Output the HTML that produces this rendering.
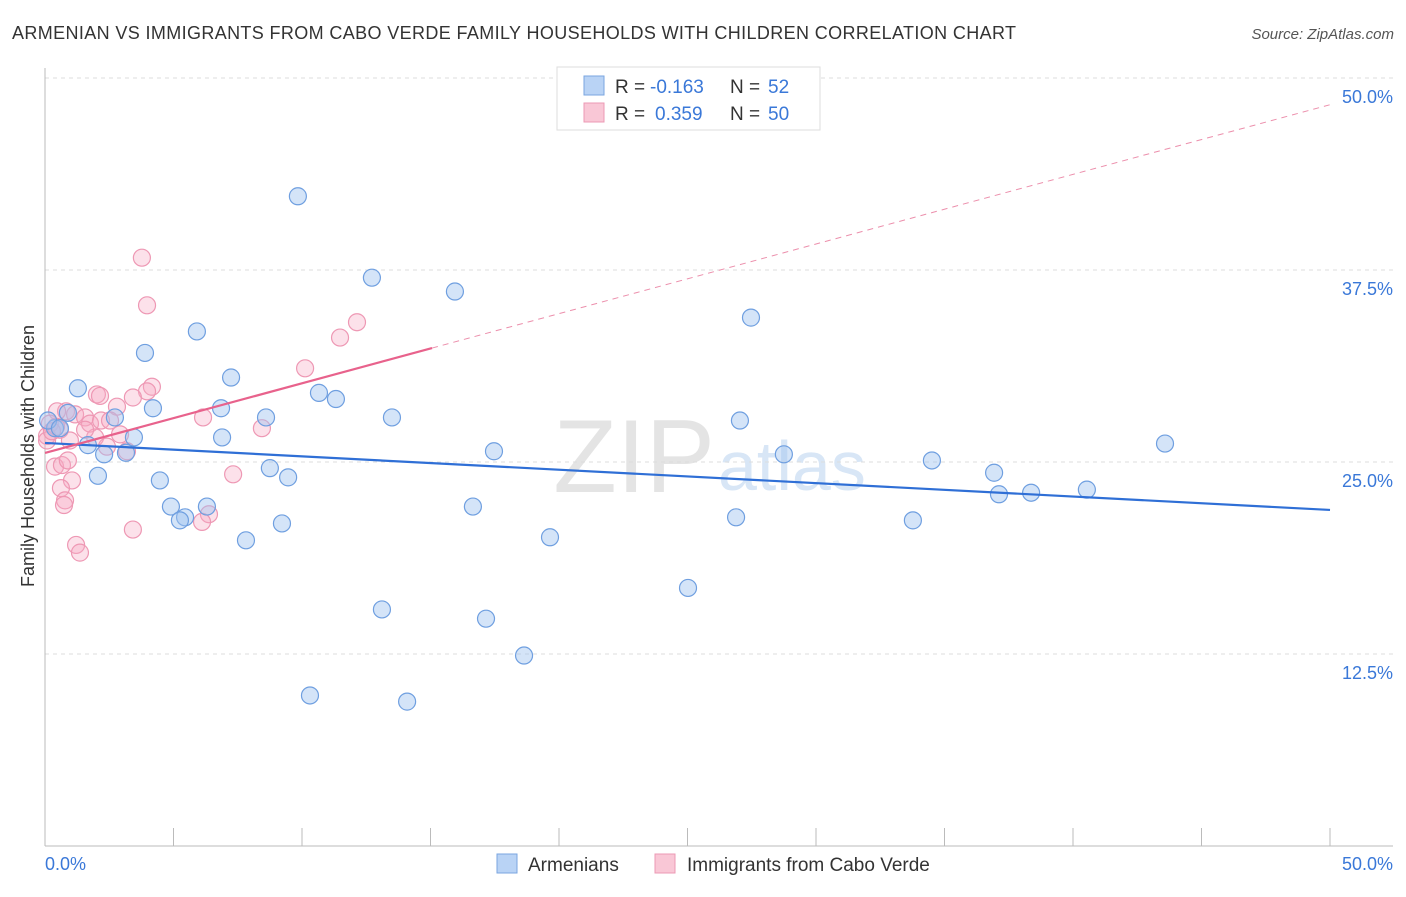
<!DOCTYPE html>
<html><head><meta charset="utf-8"><style>
body{margin:0;background:#fff;font-family:"Liberation Sans",sans-serif}
svg text{font-family:"Liberation Sans",sans-serif}
</style></head><body>
<svg id="c" width="1406" height="892">
<text x="12" y="39" font-size="18" fill="#333" textLength="1004">ARMENIAN VS IMMIGRANTS FROM CABO VERDE FAMILY HOUSEHOLDS WITH CHILDREN CORRELATION CHART</text>
<text x="1394" y="39" font-size="15" fill="#555" font-style="italic" text-anchor="end">Source: ZipAtlas.com</text>
<text x="715" y="492" font-size="104" fill="#e4e4e4" font-family="Liberation Serif" text-anchor="end">ZIP</text>
<text x="718" y="490" font-size="70" fill="#d8e6f6">atlas</text>
<g id="grid"></g><g id="pts"></g><g id="lines"></g>
<text transform="translate(34,456) rotate(-90)" font-size="18" fill="#333" text-anchor="middle">Family Households with Children</text>
<g>
<rect x="557" y="67" width="263" height="63" fill="#fff" stroke="#ddd"/>
<rect x="584" y="76" width="20" height="19" fill="#b9d3f5" stroke="#7aa6e0"/>
<rect x="584" y="103" width="20" height="19" fill="#f9c7d6" stroke="#ec9ab4"/>
<text x="615" y="93" font-size="19" fill="#333">R =</text>
<text x="650" y="93" font-size="19" fill="#3a78d8">-0.163</text>
<text x="730" y="93" font-size="19" fill="#333">N =</text>
<text x="768" y="93" font-size="19" fill="#3a78d8">52</text>
<text x="615" y="120" font-size="19" fill="#333">R =</text>
<text x="655" y="120" font-size="19" fill="#3a78d8">0.359</text>
<text x="730" y="120" font-size="19" fill="#333">N =</text>
<text x="768" y="120" font-size="19" fill="#3a78d8">50</text>
</g>
<g>
<rect x="497" y="854" width="20" height="19" fill="#b9d3f5" stroke="#7aa6e0"/>
<text x="528" y="871" font-size="19" fill="#333">Armenians</text>
<rect x="655" y="854" width="20" height="19" fill="#f9c7d6" stroke="#ec9ab4"/>
<text x="687" y="871" font-size="19" fill="#333">Immigrants from Cabo Verde</text>
</g>
</svg>
<script>
const blueX=[9.84,12.72,15.95,27.47,5.91,3.89,7.24,1.28,10.66,11.32,4.20,6.85,8.60,13.50,27.04,2.72,0.89,0.39,3.46,6.89,1.67,2.30,3.15,17.47,28.75,34.51,43.58,36.93,8.75,9.46,2.06,4.47,37.12,38.37,40.54,4.90,6.30,16.65,5.45,5.25,26.89,33.77,9.22,7.82,19.65,25.02,13.11,17.16,18.64,10.31,14.09,0.12,0.58];
const blueY=[42.3,37.0,36.1,34.4,33.5,32.1,30.5,29.8,29.5,29.1,28.5,28.5,27.9,27.9,27.7,27.9,28.2,27.2,26.6,26.6,26.1,25.5,25.6,25.7,25.5,25.1,26.2,24.3,24.6,24.0,24.1,23.8,22.9,23.0,23.2,22.1,22.1,22.1,21.4,21.2,21.4,21.2,21.0,19.9,20.1,16.8,15.4,14.8,12.4,9.8,9.4,27.7,27.2];
const pinkX=[3.77,3.97,12.14,11.48,10.12,4.16,3.97,2.02,2.14,3.42,2.80,0.82,1.17,0.47,1.56,1.75,2.18,6.15,8.44,0.19,0.58,0.08,0.97,1.95,2.92,2.41,3.19,0.39,0.66,0.89,1.05,0.62,0.78,0.74,7.32,6.38,6.11,3.42,1.21,1.36,0.08,0.43,0.27,2.53,1.56];
const pinkY=[38.3,35.2,34.1,33.1,31.1,29.9,29.6,29.4,29.3,29.2,28.6,28.3,28.1,28.3,27.9,27.5,27.7,27.9,27.2,27.5,27.1,26.7,26.4,26.6,26.8,26.0,25.7,24.7,24.8,25.1,23.8,23.3,22.5,22.2,24.2,21.6,21.1,20.6,19.6,19.1,26.4,27.3,27.0,27.7,27.1];
const blueTrend=[26.24,21.88];
const pinkTrend=[25.59,48.26];
const pinkSolidEnd=15.06;
const yTicks=[12.5,25.0,37.5,50.0];
const xTickVals=[0,5,10,15,20,25,30,35,40,45,50];
const NS='http://www.w3.org/2000/svg';
const sx=v=>45+v*25.7, sy=v=>846-v*15.36;
function mk(t,a,p){const e=document.createElementNS(NS,t);for(const k in a)e.setAttribute(k,a[k]);p.appendChild(e);return e;}
const g=document.getElementById('grid');
yTicks.forEach(v=>{
 const l=mk('line',{x1:45,x2:1393,y1:sy(v),y2:sy(v),stroke:'#ddd','stroke-dasharray':'4,4'},g);
 
 
 const t=mk('text',{x:1393,y:sy(v)+25,'font-size':18,fill:'#3a78d8','text-anchor':'end'},g);t.textContent=v.toFixed(1)+'%';
 
 
});
mk('line',{x1:45,x2:45,y1:68,y2:846,stroke:'#bbb'},g);
mk('line',{x1:45,x2:1393,y1:846,y2:846,stroke:'#bbb'},g);
xTickVals.forEach(v=>{const l=mk('line',{x1:sx(v),x2:sx(v),y1:828,y2:846,stroke:'#bbb'},g);
 
 });
[[0,'start',45],[50,'end',1393]].forEach(([v,a,x])=>{const t=mk('text',{x:x,y:870,'font-size':18,fill:'#3a78d8','text-anchor':a},g);t.textContent=v.toFixed(1)+'%';
 
 });
const P=document.getElementById('pts');
pinkX.forEach((x,i)=>{const c=mk('circle',{cx:sx(x),cy:sy(pinkY[i]),r:8.5,fill:'rgba(246,168,194,0.35)',stroke:'#ee98b4','stroke-width':1.2},P);
 
 });
blueX.forEach((x,i)=>{const c=mk('circle',{cx:sx(x),cy:sy(blueY[i]),r:8.5,fill:'rgba(160,196,240,0.45)',stroke:'#6f9fe0','stroke-width':1.2},P);
 
 });
const L=document.getElementById('lines');
const bl=mk('line',{x1:sx(0),y1:sy(blueTrend[0]),x2:sx(50),y2:sy(blueTrend[1]),stroke:'#2f6fd6','stroke-width':2.2},L);


const pe=pinkTrend[0]+(pinkTrend[1]-pinkTrend[0])*pinkSolidEnd/50;
const pl=mk('line',{x1:sx(0),y1:sy(pinkTrend[0]),x2:sx(pinkSolidEnd),y2:sy(pe),stroke:'#e8628c','stroke-width':2.2},L);


const pd=mk('line',{x1:sx(pinkSolidEnd),y1:sy(pe),x2:sx(50),y2:sy(pinkTrend[1]),stroke:'#ec8fac','stroke-width':1,'stroke-dasharray':'6,5'},L);


</script>
</body></html>
